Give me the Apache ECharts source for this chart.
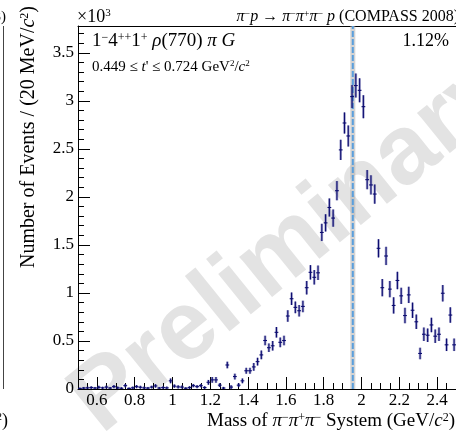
<!DOCTYPE html>
<html>
<head>
<meta charset="utf-8">
<script src="https://cdn.jsdelivr.net/npm/echarts@6/dist/echarts.min.js"></script>
<style>html,body{margin:0;padding:0;background:#fff;}#c{width:456px;height:433px;}</style>
</head>
<body>
<div id="c"></div>
<script>
// ---- data (Number of events, units of 10^3, per 20 MeV bin) ----
const massBins = [0.51,0.53,0.55,0.57,0.59,0.61,0.63,0.65,0.67,0.69,
  0.71,0.73,0.75,0.77,0.79,0.81,0.83,0.85,0.87,0.89,
  0.91,0.93,0.95,0.97,0.99,1.01,1.03,1.05,1.07,1.09,
  1.11,1.13,1.15,1.17,1.19,1.21,1.23,1.25,1.27,1.29,
  1.31,1.33,1.35,1.37,1.39,1.41,1.43,1.45,1.47,1.49,
  1.51,1.53,1.55,1.57,1.59,1.61,1.63,1.65,1.67,1.69,
  1.71,1.73,1.75,1.77,1.79,1.81,1.83,1.85,1.87,1.89,
  1.91,1.93,1.95,1.97,1.99,2.01,2.03,2.05,2.07,2.09,
  2.11,2.13,2.15,2.17,2.19,2.21,2.23,2.25,2.27,2.29,
  2.31,2.33,2.35,2.37,2.39,2.41,2.43,2.45,2.47,2.49];
const events = [0.005,0.010,0.012,0.015,0.010,0.018,0.012,0.020,0.010,0.025,
  0.012,0.008,0.035,0.006,0.012,0.025,0.018,0.012,0.010,0.020,
  0.032,0.010,0.015,0.012,0.085,0.030,0.022,0.020,0.008,0.015,
  0.035,0.025,0.035,0.015,0.070,0.095,0.095,0.040,0.010,0.250,
  0.020,0.130,0.040,0.085,0.190,0.190,0.230,0.285,0.355,0.505,
  0.430,0.450,0.590,0.486,0.505,0.760,0.940,0.850,0.815,0.860,
  1.055,1.215,1.163,1.210,1.630,1.730,1.890,1.780,2.065,2.490,
  2.770,2.635,3.045,3.160,3.110,2.940,2.180,2.125,2.030,1.465,
  1.055,1.385,1.040,0.870,1.130,0.970,0.765,0.980,0.820,0.700,
  0.370,0.570,0.560,0.667,0.550,0.570,0.997,0.460,0.770,0.460];
const errors = [0.010,0.012,0.012,0.014,0.012,0.015,0.012,0.015,0.012,0.016,
  0.013,0.010,0.018,0.010,0.013,0.016,0.015,0.013,0.012,0.015,
  0.018,0.012,0.014,0.013,0.025,0.018,0.016,0.016,0.010,0.014,
  0.018,0.016,0.018,0.014,0.025,0.030,0.030,0.020,0.012,0.035,
  0.020,0.030,0.020,0.025,0.030,0.030,0.040,0.040,0.045,0.050,
  0.045,0.050,0.055,0.050,0.050,0.060,0.065,0.060,0.060,0.060,
  0.070,0.075,0.075,0.075,0.090,0.090,0.095,0.090,0.100,0.105,
  0.110,0.110,0.120,0.125,0.125,0.120,0.100,0.100,0.100,0.095,
  0.090,0.095,0.085,0.085,0.090,0.085,0.080,0.085,0.080,0.075,
  0.060,0.070,0.070,0.075,0.070,0.070,0.085,0.065,0.080,0.065];
const markMass = 1.954;
const xMajorTicks = [0.6,0.8,1,1.2,1.4,1.6,1.8,2,2.2,2.4];
const yMajorTicks = [0,0.5,1,1.5,2,2.5,3,3.5];
const xRange = [0.5, 2.5];
const yRange = [0, 3.78];

// ---- layout helpers ----
const xMinorTicks = [];
for (let i = 0; i <= 40; i++) { const v = +(0.5 + i * 0.05).toFixed(2); if (xMajorTicks.indexOf(v) < 0) xMinorTicks.push(v); }
const yMinorTicks = [];
for (let i = 0; i <= 37; i++) { const v = +(i * 0.1).toFixed(1); if (yMajorTicks.indexOf(v) < 0) yMinorTicks.push(v); }

const SERIF = '"Liberation Serif", "DejaVu Serif", serif';
const NAVY = '#0c0c70';
function richSet(size) {
  return {
    n: {fontFamily: SERIF, fontSize: size, fill: '#000', color: '#000'},
    i: {fontFamily: SERIF, fontSize: size, fontStyle: 'italic', fill: '#000', color: '#000'},
    sup: {fontFamily: SERIF, fontSize: Math.round(size * 0.62), fill: '#000', color: '#000', verticalAlign: 'top'}
  };
}
function txt(x, y, text, size, align, extra) {
  return Object.assign({
    type: 'text', x: x, y: y, z: 50,
    style: {text: text, rich: richSet(size), fontFamily: SERIF, fontSize: size, fill: '#000',
      align: align || 'left', verticalAlign: 'middle'}
  }, extra || {});
}

const pointData = massBins.map((m, i) => [m, events[i], errors[i]]);

function renderItem(params, api) {
  const m = api.value(0), v = api.value(1), e = api.value(2);
  const c = api.coord([m, v]);
  const hi = api.coord([m, v + e]);
  const lo = api.coord([m, Math.max(v - e, 0)]);
  const half = api.size([0.02, 0])[0] / 2;
  return {type: 'group', children: [
    {type: 'rect', shape: {x: c[0] - 1.3, y: hi[1], width: 2.6, height: Math.max(lo[1] - hi[1], 1)},
      style: {fill: 'rgba(80,80,160,0.5)'}},
    {type: 'line', shape: {x1: c[0], y1: hi[1], x2: c[0], y2: lo[1]}, style: {stroke: NAVY, lineWidth: 1.1}},
    {type: 'line', shape: {x1: c[0] - half, y1: c[1], x2: c[0] + half, y2: c[1]}, style: {stroke: NAVY, lineWidth: 1.1}}
  ]};
}

const axLine = {show: true, onZero: false, lineStyle: {color: '#000', width: 1}};
const chart = echarts.init(document.getElementById('c'), null, {renderer: 'canvas'});
chart.setOption({
  animation: false,
  backgroundColor: '#fff',
  grid: {left: 78, top: 26, right: -2, bottom: 44},
  xAxis: [
    {type: 'value', min: xRange[0], max: xRange[1], position: 'bottom', axisLine: axLine,
      axisTick: {inside: true, length: 12, customValues: xMajorTicks, lineStyle: {color: '#000'}},
      axisLabel: {customValues: xMajorTicks, fontFamily: SERIF, fontSize: 17, color: '#000', margin: 3,
        formatter: v => String(+v.toFixed(1))},
      splitLine: {show: false}},
    {type: 'value', min: xRange[0], max: xRange[1], position: 'bottom', axisLine: {show: false, onZero: false},
      axisTick: {inside: true, length: 6, customValues: xMinorTicks, lineStyle: {color: '#000'}},
      axisLabel: {show: false}, splitLine: {show: false}},
    {type: 'value', min: xRange[0], max: xRange[1], position: 'top', axisLine: axLine,
      axisTick: {show: false}, axisLabel: {show: false}, splitLine: {show: false}}
  ],
  yAxis: [
    {type: 'value', min: yRange[0], max: yRange[1], position: 'left', axisLine: axLine,
      axisTick: {inside: true, length: 12, customValues: yMajorTicks, lineStyle: {color: '#000'}},
      axisLabel: {customValues: yMajorTicks, fontFamily: SERIF, fontSize: 17, color: '#000', margin: 4,
        formatter: v => String(+v.toFixed(1))},
      splitLine: {show: false}},
    {type: 'value', min: yRange[0], max: yRange[1], position: 'left', axisLine: {show: false, onZero: false},
      axisTick: {inside: true, length: 6, customValues: yMinorTicks, lineStyle: {color: '#000'}},
      axisLabel: {show: false}, splitLine: {show: false}}
  ],
  series: [
    {type: 'line', xAxisIndex: 0, yAxisIndex: 0, data: [[markMass, yRange[0]], [markMass, yRange[1]]],
      showSymbol: false, symbol: 'none', silent: true, z: 1,
      lineStyle: {color: 'rgba(175,175,175,0.55)', width: 5}},
    {type: 'line', xAxisIndex: 0, yAxisIndex: 0, data: [[markMass, yRange[0]], [markMass, yRange[1]]],
      showSymbol: false, symbol: 'none', silent: true, z: 2,
      lineStyle: {color: '#5b9fdc', width: 2, type: [6, 2]}},
    {type: 'custom', xAxisIndex: 0, yAxisIndex: 0, renderItem: renderItem, data: pointData, z: 3,
      encode: {x: 0, y: 1}}
  ],
  graphic: [
    {type: 'text', x: 292, y: 246, rotation: 39 * Math.PI / 180, z: -10, zlevel: 0, silent: true,
      style: {text: 'Preliminary', fontFamily: '"Liberation Sans", Arial, sans-serif', fontWeight: 'bold',
        fontSize: 98, fill: '#e3e3e3', align: 'center', verticalAlign: 'middle'}},
    txt(77, 17, '×10{sup|3}', 18, 'left'),
    txt(459, 17, '{i|π}{sup|−}{i|p} → {i|π}{sup|−}{i|π}{sup|+}{i|π}{sup|−} {i|p} (COMPASS 2008)', 16, 'right'),
    txt(92, 41, '1{sup|−}4{sup|++}1{sup|+} {i|ρ}(770) {i|π G}', 19, 'left'),
    txt(92, 67, '0.449 ≤ {i|t}\' ≤ 0.724 GeV{sup|2}/{i|c}{sup|2}', 15, 'left'),
    txt(449, 41, '1.12%', 18, 'right'),
    txt(455, 421, 'Mass of {i|π}{sup|−}{i|π}{sup|+}{i|π}{sup|−} System (GeV/{i|c}{sup|2})', 19, 'right'),
    txt(29, 137, 'Number of Events / (20 MeV/{i|c}{sup|2})', 20, 'center', {rotation: Math.PI / 2}),
    // fragments of the neighbouring panel on the left
    {type: 'line', z: 50, shape: {x1: 3.5, y1: 26, x2: 3.5, y2: 389}, style: {stroke: '#444', lineWidth: 1}},
    txt(6, 17, 'COMPASS 2008)', 15, 'right'),
    txt(8, 421, '(GeV/{i|c}{sup|2})', 18, 'right')
  ]
});
</script>
</body>
</html>
